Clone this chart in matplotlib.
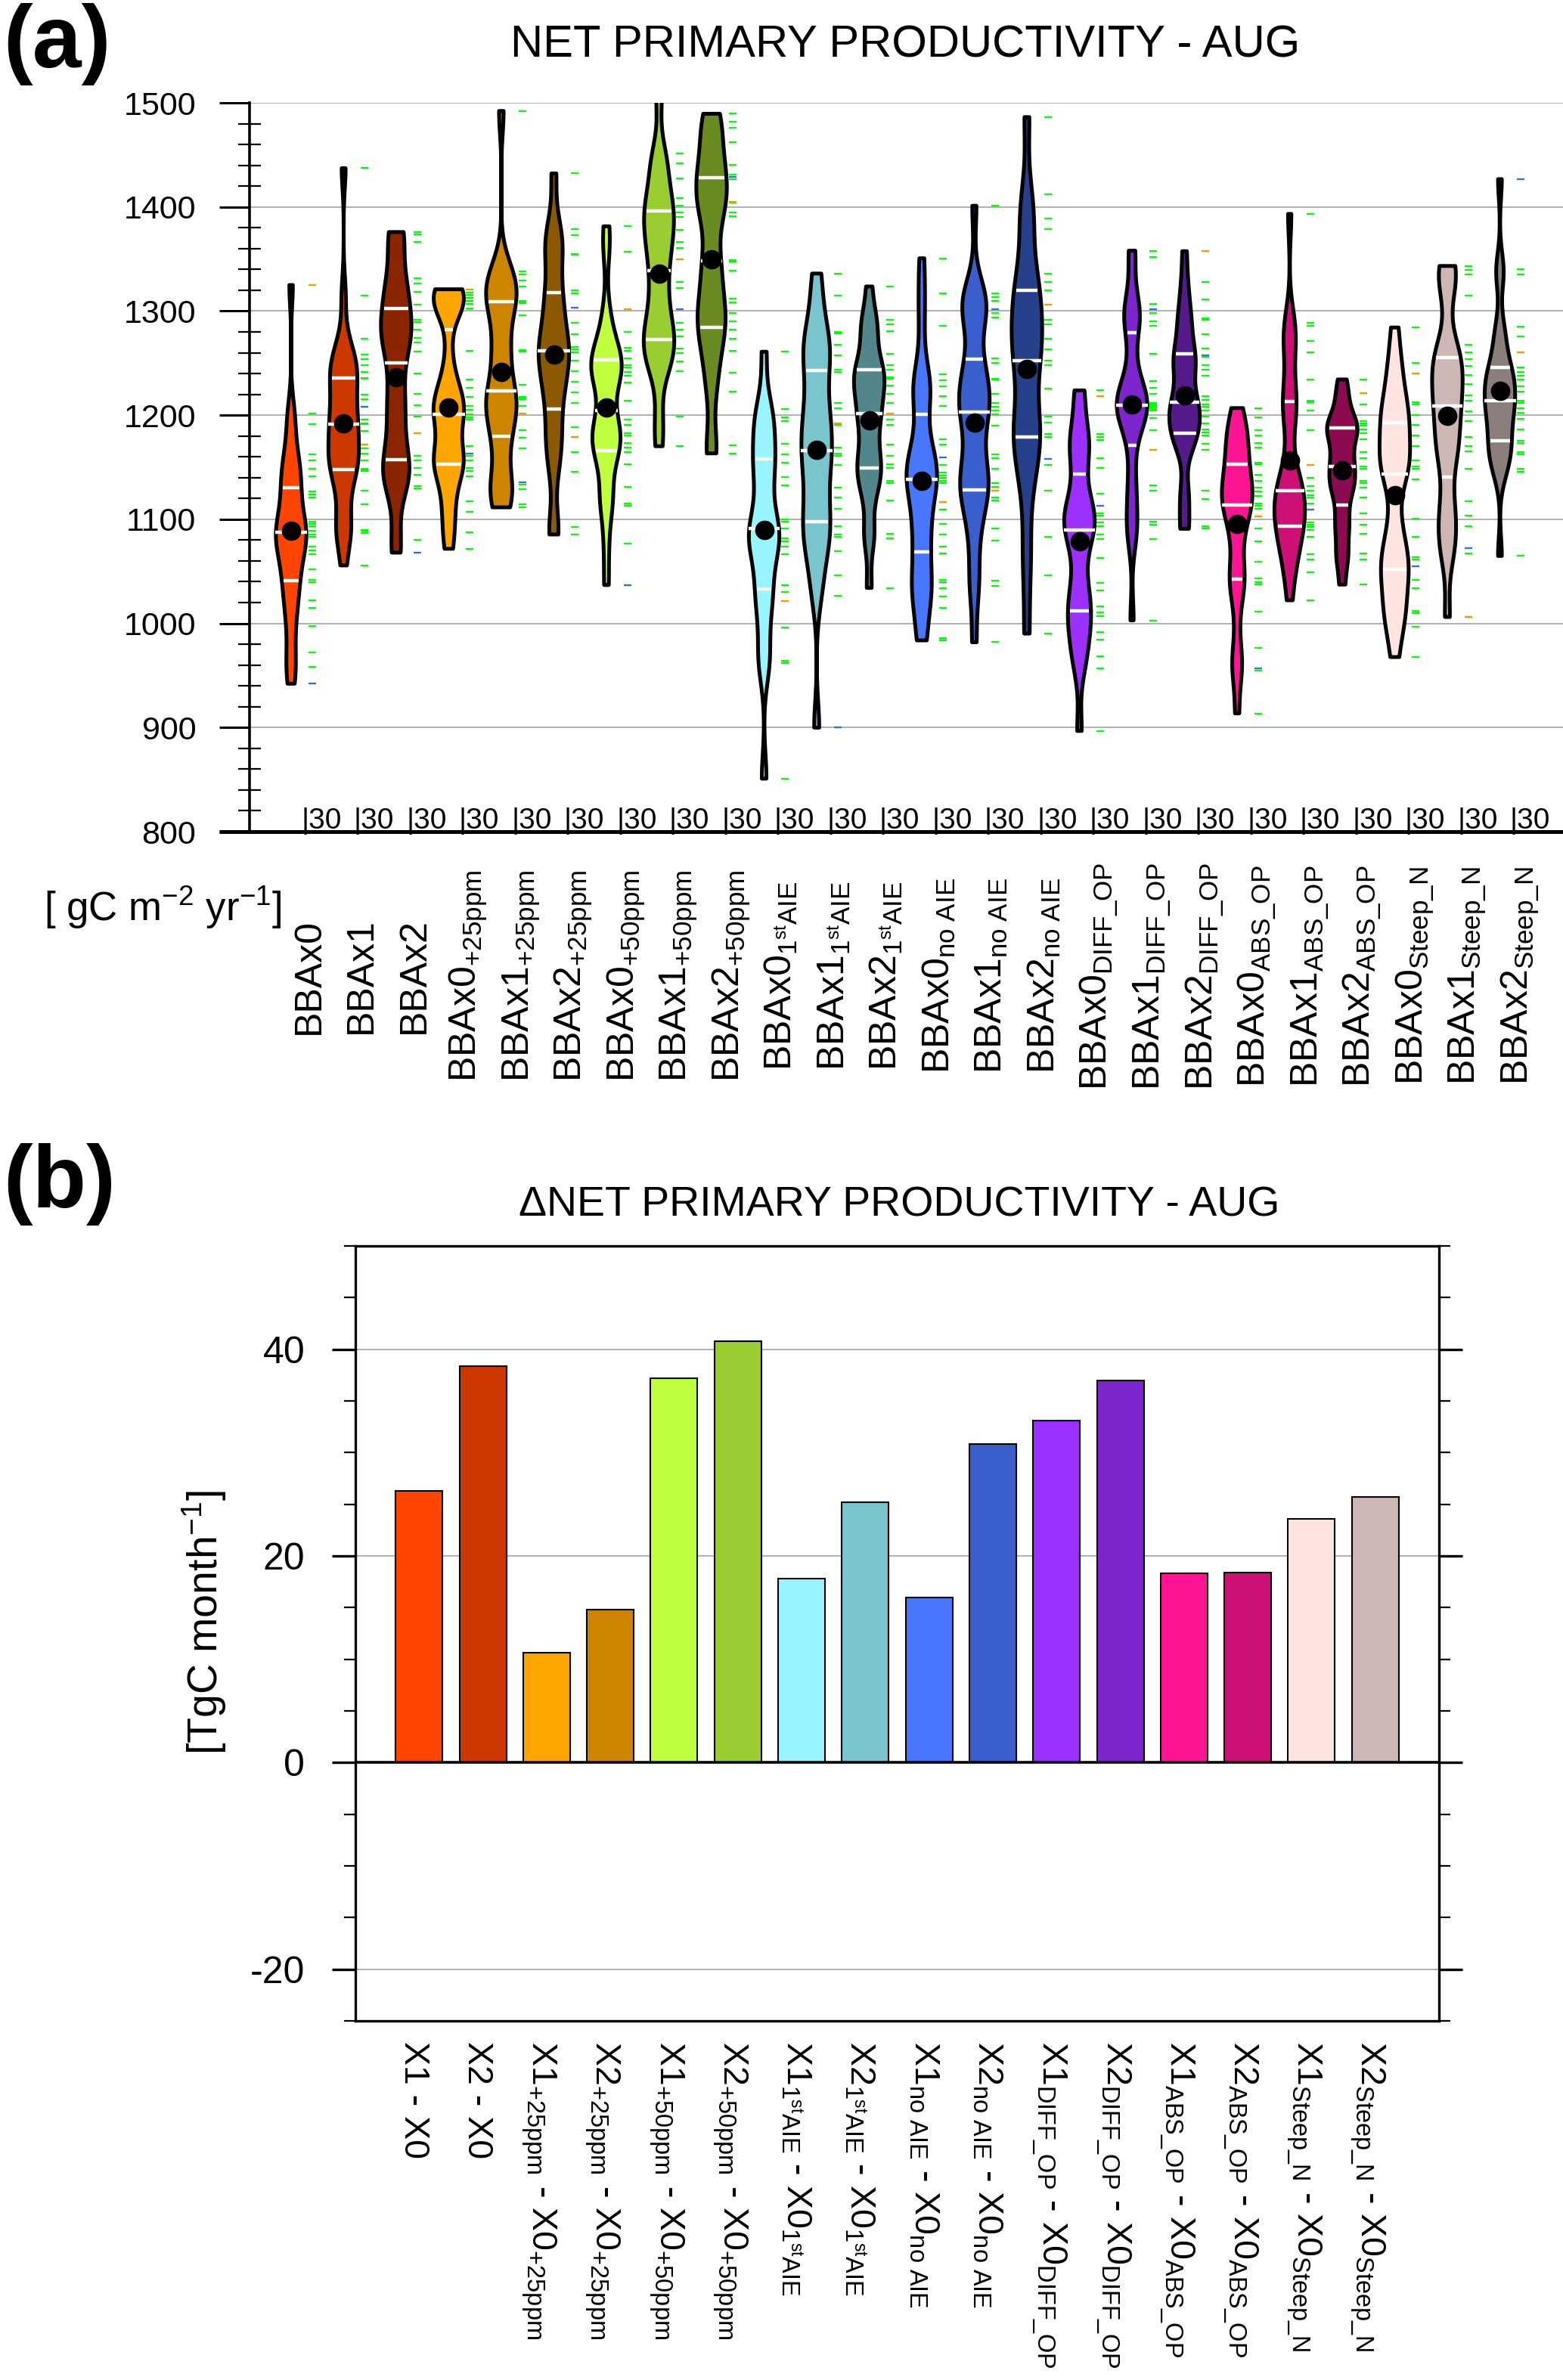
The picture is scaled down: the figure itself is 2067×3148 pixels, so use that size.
import matplotlib
matplotlib.use("Agg")
import matplotlib.pyplot as plt
import matplotlib.transforms as mtransforms
import numpy as np

plt.rcParams["font.family"] = ["Liberation Sans", "DejaVu Sans"]
plt.rcParams["mathtext.fontset"] = "custom"
plt.rcParams["mathtext.rm"] = "Liberation Sans"
plt.rcParams["mathtext.it"] = "Liberation Sans"
plt.rcParams["mathtext.bf"] = "Liberation Sans:bold"
plt.rcParams["mathtext.default"] = "rm"
plt.rcParams["axes.unicode_minus"] = False

# ---------------- panel (a): ensemble NPP per experiment ----------------
npp_labels = [
    "BBAx0", "BBAx1", "BBAx2",
    "BBAx0$_{+25ppm}$", "BBAx1$_{+25ppm}$", "BBAx2$_{+25ppm}$",
    "BBAx0$_{+50ppm}$", "BBAx1$_{+50ppm}$", "BBAx2$_{+50ppm}$",
    "BBAx0$_{1^{st}AIE}$", "BBAx1$_{1^{st}AIE}$", "BBAx2$_{1^{st}AIE}$",
    r"BBAx0$_{no\ AIE}$", r"BBAx1$_{no\ AIE}$", r"BBAx2$_{no\ AIE}$",
    r"BBAx0$_{DIFF\_OP}$", r"BBAx1$_{DIFF\_OP}$", r"BBAx2$_{DIFF\_OP}$",
    r"BBAx0$_{ABS\_OP}$", r"BBAx1$_{ABS\_OP}$", r"BBAx2$_{ABS\_OP}$",
    r"BBAx0$_{Steep\_N}$", r"BBAx1$_{Steep\_N}$", r"BBAx2$_{Steep\_N}$",
]

npp_colors = [
    "#FF4500", "#CD3700", "#8B2500",
    "#FFA500", "#CD8500", "#8B5A00",
    "#C0FF3E", "#9ACD32", "#698B22",
    "#98F5FF", "#7AC5CD", "#53868B",
    "#4876FF", "#3A5FCD", "#27408B",
    "#9B30FF", "#7D26CD", "#551A8B",
    "#FF1493", "#CD1076", "#8B0A50",
    "#FFE4E1", "#CDB7B5", "#8B7D7B",
]

n_runs = [30, 30, 30, 30, 30, 30, 30, 30, 30, 30, 30, 30,
          30, 30, 30, 30, 30, 30, 30, 30, 30, 30, 30, 30]

# member values [gC m-2 yr-1]
npp_members = [
    [1325.0, 1201.8, 1191.3, 1162.4, 1156.4, 1148.2, 1141.3, 1126.7, 1123.5, 1121.2,
     1097.8, 1095.5, 1093.2, 1089.1, 1085.4, 1083.1, 1074.0, 1070.3, 1066.2, 1052.0,
     1041.9, 1039.6, 1022.2, 1014.9, 997.5, 971.8, 958.1, 942.1],
    [1437.2, 1314.9, 1273.3, 1258.1, 1254.0, 1248.1, 1241.6, 1235.7, 1235.0, 1219.7,
     1215.5, 1207.8, 1195.4, 1192.2, 1191.5, 1184.8, 1172.0, 1167.9, 1163.3, 1156.4,
     1148.2, 1147.5, 1146.4, 1127.6, 1114.3, 1090.0, 1089.3, 1086.8, 1055.7],
    [1375.9, 1374.0, 1366.2, 1331.4, 1326.8, 1318.6, 1306.2, 1291.6, 1289.7, 1282.4,
     1274.2, 1269.6, 1260.9, 1239.8, 1220.6, 1209.6, 1198.6, 1182.5, 1160.6, 1156.4,
     1149.6, 1142.7, 1131.7, 1129.9, 1080.4, 1068.0],
    [1320.9, 1318.1, 1315.4, 1312.6, 1309.9, 1306.7, 1302.6, 1261.8, 1234.3, 1226.5,
     1217.8, 1208.7, 1205.5, 1200.9, 1198.1, 1195.4, 1170.6, 1163.3, 1161.0, 1156.4,
     1149.6, 1146.4, 1141.3, 1117.5, 1107.4, 1087.7, 1071.7],
    [1492.2, 1338.3, 1335.1, 1329.1, 1323.6, 1309.9, 1309.2, 1307.6, 1296.2, 1262.7,
     1262.0, 1260.9, 1229.3, 1217.4, 1216.8, 1215.1, 1209.1, 1201.3, 1185.3, 1178.4,
     1167.9, 1135.8, 1133.5, 1128.9, 1114.7, 1111.5],
    [1432.2, 1378.6, 1373.1, 1354.8, 1353.9, 1319.9, 1316.8, 1303.0, 1288.8, 1277.8,
     1265.5, 1263.2, 1260.4, 1252.6, 1242.1, 1232.0, 1221.9, 1211.4, 1188.5, 1179.3,
     1164.2, 1145.9, 1092.3, 1085.4],
    [1381.4, 1356.6, 1301.6, 1280.1, 1265.0, 1261.8, 1254.9, 1248.1, 1245.8, 1241.2,
     1237.5, 1231.1, 1213.7, 1195.4, 1190.8, 1182.5, 1180.7, 1173.4, 1168.8, 1164.7,
     1153.2, 1131.2, 1115.2, 1112.9, 1076.3, 1036.9],
    [1508.0, 1451.4, 1441.8, 1427.6, 1408.4, 1401.5, 1394.6, 1390.1, 1377.7, 1366.2,
     1360.3, 1349.8, 1328.2, 1322.3, 1301.6, 1288.4, 1282.4, 1275.5, 1264.1, 1259.5,
     1251.7, 1242.1, 1199.0, 1170.2],
    [1489.5, 1481.7, 1476.2, 1462.0, 1440.4, 1431.3, 1429.0, 1426.7, 1404.7, 1403.8,
     1394.6, 1391.4, 1348.8, 1347.5, 1338.8, 1312.2, 1308.5, 1298.4, 1290.2, 1282.4,
     1273.3, 1261.8, 1240.7, 1222.9, 1171.1, 1163.3],
    [1260.9, 1205.9, 1197.7, 1194.5, 1172.5, 1162.0, 1154.1, 1140.4, 1132.6, 1100.1,
     1097.8, 1090.9, 1081.8, 1078.6, 1074.0, 1066.2, 1036.4, 1030.5, 1021.3, 996.1,
     964.0, 961.8, 850.9],
    [1336.0, 1314.5, 1280.1, 1278.7, 1267.8, 1257.2, 1243.5, 1241.2, 1211.4, 1206.8,
     1192.2, 1190.8, 1168.8, 1163.3, 1161.0, 1151.9, 1130.3, 1121.2, 1109.7, 1093.7,
     1085.4, 1083.1, 1069.4, 1046.5, 1026.8, 899.9],
    [1323.6, 1291.6, 1287.0, 1281.0, 1258.6, 1248.1, 1243.5, 1236.6, 1235.2, 1228.4,
     1220.6, 1211.4, 1201.3, 1195.4, 1190.8, 1171.6, 1161.0, 1152.8, 1149.6, 1136.7,
     1134.9, 1118.4, 1086.3, 1081.8, 1034.1],
    [1350.7, 1317.2, 1286.1, 1239.3, 1233.4, 1227.4, 1218.3, 1209.1, 1177.1, 1171.6,
     1159.2, 1152.4, 1145.0, 1142.2, 1139.5, 1136.7, 1134.4, 1116.6, 1109.3, 1095.5,
     1085.4, 1074.0, 1067.1, 1041.9, 1039.6, 1034.1, 1025.8, 1014.9, 985.6, 983.7],
    [1401.1, 1316.8, 1313.6, 1309.9, 1302.1, 1298.4, 1293.8, 1254.9, 1250.3, 1235.2,
     1234.3, 1220.6, 1211.4, 1208.2, 1204.5, 1200.9, 1189.9, 1162.4, 1158.7, 1148.6,
     1134.4, 1131.2, 1127.6, 1121.2, 1118.4, 1091.4, 1079.9, 1041.0, 1035.9, 981.9],
    [1486.3, 1412.0, 1389.1, 1378.6, 1336.0, 1328.2, 1319.9, 1306.2, 1291.6, 1287.0,
     1273.3, 1263.2, 1252.6, 1248.1, 1225.2, 1198.6, 1193.1, 1181.6, 1179.3, 1157.8,
     1151.9, 1127.6, 1083.1, 1046.5, 990.2],
    [1223.8, 1218.3, 1181.6, 1178.9, 1176.1, 1158.7, 1149.6, 1124.4, 1112.9, 1106.0,
     1103.8, 1096.9, 1093.7, 1085.4, 1080.9, 1062.5, 1038.7, 1031.8, 1016.7, 1010.8,
     1006.6, 991.5, 984.7, 968.6, 957.0, 896.7],
    [1358.0, 1352.0, 1306.7, 1302.1, 1298.4, 1290.2, 1286.1, 1258.6, 1232.9, 1226.5,
     1220.6, 1211.4, 1210.2, 1209.1, 1207.9, 1206.8, 1204.5, 1197.2, 1185.3, 1166.5,
     1132.6, 1127.6, 1097.8, 1094.6, 1080.9, 1002.9],
    [1357.5, 1328.2, 1311.3, 1292.9, 1291.6, 1277.8, 1264.1, 1257.2, 1255.8, 1248.1,
     1243.5, 1238.0, 1218.3, 1214.6, 1210.5, 1207.8, 1204.5, 1198.6, 1192.2, 1186.2,
     1183.5, 1180.3, 1172.5, 1166.5, 1127.6, 1119.8, 1093.2, 1090.9],
    [1206.8, 1197.7, 1185.3, 1180.7, 1173.4, 1168.9, 1154.1, 1152.8, 1142.7, 1136.7,
     1130.3, 1126.7, 1122.1, 1115.2, 1112.9, 1109.7, 1102.8, 1090.9, 1078.6, 1058.9,
     1043.3, 1039.6, 1037.4, 1011.2, 976.4, 957.2, 954.9, 913.6],
    [1393.3, 1288.4, 1286.1, 1271.0, 1260.4, 1233.9, 1213.7, 1212.3, 1204.5, 1185.3,
     1151.9, 1139.5, 1132.2, 1127.6, 1123.0, 1120.7, 1115.2, 1109.3, 1096.9, 1094.6,
     1092.3, 1090.0, 1083.1, 1066.2, 1061.6, 1048.8, 1022.2],
    [1234.3, 1221.0, 1210.0, 1194.5, 1192.2, 1189.9, 1186.2, 1182.5, 1177.1, 1164.7,
     1158.7, 1150.9, 1148.6, 1137.2, 1134.4, 1130.3, 1120.7, 1106.0, 1094.6, 1086.3,
     1067.1, 1061.6, 1037.3],
    [1284.2, 1250.3, 1240.3, 1212.8, 1210.5, 1200.0, 1190.8, 1180.7, 1170.2, 1156.4,
     1150.9, 1148.6, 1138.1, 1100.5, 1083.1, 1063.9, 1061.6, 1055.2, 1041.9, 1033.7,
     1012.1, 1009.9, 997.0, 967.7],
    [1343.3, 1339.2, 1335.1, 1314.5, 1267.8, 1260.4, 1254.0, 1247.1, 1238.9, 1230.2,
     1219.2, 1213.7, 1203.6, 1194.5, 1179.3, 1170.2, 1165.6, 1148.6, 1117.5, 1103.3,
     1093.7, 1072.6, 1067.1, 1006.2],
    [1426.7, 1340.6, 1335.1, 1284.7, 1275.5, 1260.4, 1245.8, 1241.2, 1237.5, 1233.9,
     1227.4, 1222.9, 1213.7, 1211.4, 1206.8, 1202.2, 1196.3, 1186.2, 1175.7, 1173.4,
     1164.2, 1162.4, 1148.2, 1145.9, 1064.8],
]

# highlighted members (orange / blue dashes), None where not shown
orange_member = [1325.0, 1172.0, 1182.5, 1320.9, 1201.3, 1179.3, 1301.6, 1349.8,
                 1404.7, 1021.3, 1192.2, 1201.3, 1116.6, 1127.6, 1306.2, 1218.3,
                 1166.5, 1357.5, 1102.8, 1151.9, 1221.0, 1240.3, 1006.2, 1260.4]
blue_member = [942.1, 1207.8, 1068.0, 1163.3, 1135.8, 1303.0, 1036.9, 1301.6,
               1429.0, None, 899.9, None, 1159.2, 1302.1, 1157.8, 1112.9,
               1302.1, 1257.2, 957.2, 1109.3, None, 1055.2, 1072.6, 1426.7]

# ---------------- panel (b): differences ----------------
delta_labels = [
    "X1 - X0", "X2 - X0",
    "X1$_{+25ppm}$ - X0$_{+25ppm}$", "X2$_{+25ppm}$ - X0$_{+25ppm}$",
    "X1$_{+50ppm}$ - X0$_{+50ppm}$", "X2$_{+50ppm}$ - X0$_{+50ppm}$",
    "X1$_{1^{st}AIE}$ - X0$_{1^{st}AIE}$", "X2$_{1^{st}AIE}$ - X0$_{1^{st}AIE}$",
    r"X1$_{no\ AIE}$ - X0$_{no\ AIE}$", r"X2$_{no\ AIE}$ - X0$_{no\ AIE}$",
    r"X1$_{DIFF\_OP}$ - X0$_{DIFF\_OP}$", r"X2$_{DIFF\_OP}$ - X0$_{DIFF\_OP}$",
    r"X1$_{ABS\_OP}$ - X0$_{ABS\_OP}$", r"X2$_{ABS\_OP}$ - X0$_{ABS\_OP}$",
    r"X1$_{Steep\_N}$ - X0$_{Steep\_N}$", r"X2$_{Steep\_N}$ - X0$_{Steep\_N}$",
]
delta_vals = [26.3, 38.4, 10.6, 14.8, 37.2, 40.8, 17.8, 25.2,
              16.0, 30.8, 33.1, 37.0, 18.3, 18.4, 23.6, 25.7]
delta_colors = [
    "#FF4500", "#CD3700", "#FFA500", "#CD8500", "#C0FF3E", "#9ACD32",
    "#98F5FF", "#7AC5CD", "#4876FF", "#3A5FCD", "#9B30FF", "#7D26CD",
    "#FF1493", "#CD1076", "#FFE4E1", "#CDB7B5",
]


def kde_outline(vals, half_width=0.29):
    v = np.asarray(vals, dtype=float)
    h = 0.25 * v.std()
    y = np.linspace(v.min(), v.max(), 400)
    d = np.exp(-0.5 * ((y[:, None] - v[None, :]) / h) ** 2).sum(axis=1)
    return y, d / d.max() * half_width


W, H = 2067, 3148
fig = plt.figure(figsize=(W / 100, H / 100), dpi=100)

# ---- panel (a) ----
ax = fig.add_axes([330 / W, 1 - 1100 / H, 1737 / W, 964 / H])
ax.set_xlim(-0.791, 24.2)
ax.set_ylim(800, 1500)
ax.set_axisbelow(True)
ax.yaxis.grid(True, color="#aaaaaa", lw=1.3)
for s in ["top", "right", "bottom"]:
    ax.spines[s].set_visible(False)
ax.spines["left"].set_linewidth(2.6)
ax.plot([-40 / 1737, 1], [0, 0], transform=ax.transAxes, color="k",
        lw=3.6, clip_on=False, solid_capstyle="butt", zorder=6)
ax.set_xticks([])
ax.set_yticks(np.arange(800, 1501, 100))
ax.set_yticks(np.arange(800, 1501, 20), minor=True)
ax.tick_params(axis="y", which="major", direction="out", length=29, width=2.2,
               labelsize=31, pad=22)
ax.tick_params(axis="y", which="minor", direction="inout", length=21, width=1.6)

for i, vals in enumerate(npp_members):
    y, w = kde_outline(vals)
    ax.fill(np.concatenate([i + w, (i - w)[::-1]]), np.concatenate([y, y[::-1]]),
            facecolor=npp_colors[i], edgecolor="k", lw=3.6, joinstyle="round",
            zorder=3)
    q25, q50, q75 = np.percentile(vals, [25, 50, 75])
    for q, inset in [(q25, 0.04), (q75, 0.04), (q50, -0.015)]:
        wq = np.interp(q, y, w)
        ax.plot([i - wq + inset, i + wq - inset], [q, q], color="white",
                lw=3.2, solid_capstyle="butt", zorder=4)
    ax.plot(i, np.mean(vals), "o", color="k", ms=17.5, zorder=5)
    ax.plot(np.full(len(vals), i + 0.4), vals, ls="none", marker="_",
            ms=7, mew=1.6, color="#00FF00", zorder=3)
    if orange_member[i] is not None:
        ax.plot(i + 0.4, orange_member[i], marker="_", ms=7, mew=1.6,
                color="#FF9900", zorder=3)
    if blue_member[i] is not None:
        ax.plot(i + 0.4, blue_member[i], marker="_", ms=7, mew=1.6,
                color="#4169E1", zorder=3)
    ax.text(i + 0.19, 803, f"|{n_runs[i]}", fontsize=28, ha="left",
            va="baseline", zorder=6)

trans_a = mtransforms.blended_transform_factory(ax.transData, fig.transFigure)
for i, lab in enumerate(npp_labels):
    fig.text(i + 0.53, 1 - 1291 / H, lab, transform=trans_a, rotation=90,
             rotation_mode="anchor", ha="center", va="baseline", fontsize=36)

fig.text(0.002, 1 - 89 / H, "(a)", fontsize=84, fontweight="bold",
         ha="left", va="baseline")
fig.text(1197 / W, 1 - 75 / H, "NET PRIMARY PRODUCTIVITY - AUG", fontsize=43,
         ha="center", va="baseline")
fig.text(215 / W, 1 - 1200 / H, r"[ gC m$^{-2}$ yr$^{-1}$]", fontsize=38,
         ha="center", va="center")

# ---- panel (b) ----
bx = fig.add_axes([470 / W, 1 - 2673 / H, 1433 / W, 1025 / H])
xb = np.arange(len(delta_vals))
bx.set_xlim(-1, 16)
bx.set_ylim(-25, 50)
bx.set_axisbelow(True)
bx.bar(xb, delta_vals, width=0.735, color=delta_colors, edgecolor="k", lw=1.5,
       zorder=2)
for g in [-20, 20, 40]:
    bx.axhline(g, color="#aaaaaa", lw=1.3, zorder=1)
bx.axhline(0, color="k", lw=2.6, zorder=3)
for s in bx.spines.values():
    s.set_linewidth(2.4)
bx.set_xticks([])
bx.set_yticks([-20, 0, 20, 40])
bx.set_yticks(np.arange(-25, 51, 5), minor=True)
bx.tick_params(axis="y", which="major", direction="out", length=22, width=2.4,
               labelsize=36, pad=26, right=True)
bx.tick_params(axis="y", which="minor", direction="out", length=11, width=1.6,
               right=True)

trans_b = mtransforms.blended_transform_factory(bx.transData, fig.transFigure)
for i, lab in enumerate(delta_labels):
    fig.text(i - 0.23, 1 - 2700 / H, lab, transform=trans_b, rotation=270,
             rotation_mode="anchor", ha="left", va="baseline", fontsize=33.5)

fig.text(0.002, 1 - 1597 / H, "(b)", fontsize=84, fontweight="bold",
         ha="left", va="baseline")
fig.text(1189 / W, 1 - 1609 / H, "ΔNET PRIMARY PRODUCTIVITY - AUG", fontsize=40,
         ha="center", va="baseline")
fig.text(270 / W, 1 - 2146 / H, r"[TgC month$^{-1}$]", fontsize=40,
         rotation=90, ha="center", va="center")

fig.savefig("out.png", dpi=100)
